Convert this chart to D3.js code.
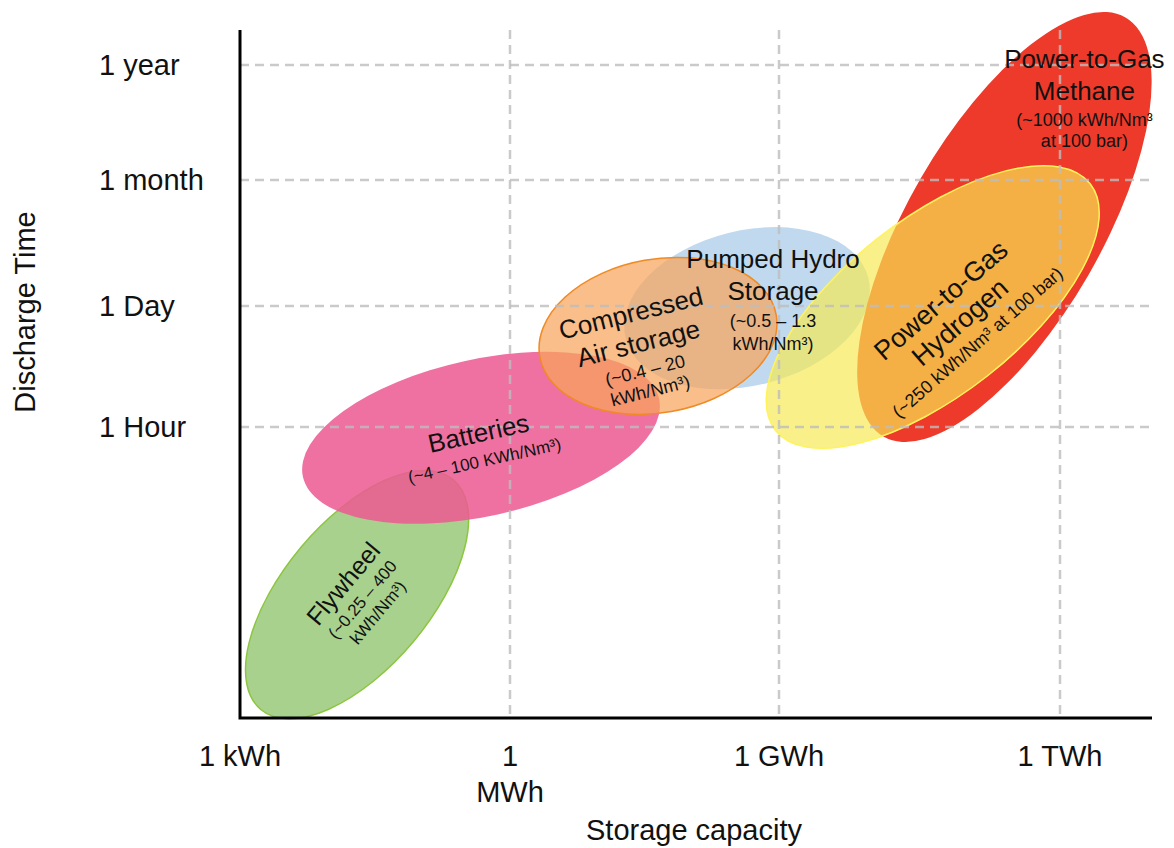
<!DOCTYPE html>
<html>
<head>
<meta charset="utf-8">
<script src="https://cdn.jsdelivr.net/npm/d3@7"></script>
<style>
  body { margin: 0; background: #fff; }
  text { font-family: "Liberation Sans", Arial, sans-serif; fill: #111; }
  .calibri { font-family: Lato, "Open Sans", sans-serif; }
</style>
</head>
<body>
<div id="chart"></div>
<script>
// axis ticks
const capacityTicks = [1, 1e3, 1e6, 1e9];            // kWh
const capacityLabels = [["1 kWh"], ["1", "MWh"], ["1 GWh"], ["1 TWh"]];
const timeTicks = [1, 24, 720, 8760];                 // hours
const timeLabels = ["1 Hour", "1 Day", "1 month", "1 year"];

// technologies: major axis runs from (capMin, timeMin) to (capMax, timeMax)
const techNames = ["Flywheel", "Batteries", "Pumped Hydro", "Compressed Air", "Methane", "Hydrogen"];
const capMin  = [1.7, 5, 19500, 2150, 1.3e7, 9.1e5];
const capMax  = [235, 46000, 9e6, 930000, 5e9, 2.1e9];
const timeMin = [0.0006, 0.27, 10.3, 6.3, 0.78, 0.92];
const timeMax = [0.25, 2.1, 51, 19, 24600, 650];
const widthRatio = [0.49, 0.43, 0.62, 0.64, 0.40, 0.44];

const W = 1174, H = 848;
const plot = {left: 240, right: 1152, top: 30, bottom: 718};

const svg = d3.select("#chart").append("svg")
  .attr("width", W).attr("height", H);

const x = d3.scaleLog().domain(capacityTicks).range([240, 510, 779, 1060]);
const y = d3.scaleLog().domain(timeTicks).range([427, 306, 180, 65]);

// styles in draw order
const styles = {
  "Flywheel":       {fill: "#A9D18E", opacity: 1,    stroke: "#8CC63F", sw: 1.5},
  "Batteries":      {fill: "#EC5A92", opacity: 0.86, stroke: "none",    sw: 0},
  "Pumped Hydro":   {fill: "#BDD7EE", opacity: 0.95, stroke: "none",    sw: 0},
  "Compressed Air": {fill: "#F6A55B", opacity: 0.72, stroke: "#F08A24", sw: 1.5},
  "Methane":        {fill: "#EE3A2A", opacity: 1,    stroke: "none",    sw: 0},
  "Hydrogen":       {fill: "#F6E951", opacity: 0.68, stroke: "#FFF35C", sw: 1.5}
};

const techs = techNames.map((name, i) => {
  const x1 = x(capMin[i]), y1 = y(timeMin[i]);
  const x2 = x(capMax[i]), y2 = y(timeMax[i]);
  const cx = (x1 + x2) / 2, cy = (y1 + y2) / 2;
  const rx = Math.hypot(x2 - x1, y2 - y1) / 2;
  return {name, cx, cy, rx, ry: rx * widthRatio[i],
          angle: Math.atan2(y2 - y1, x2 - x1) * 180 / Math.PI};
});

// ellipses
svg.append("g").selectAll("ellipse")
  .data(techs)
  .enter().append("ellipse")
  .attr("cx", d => d.cx)
  .attr("cy", d => d.cy)
  .attr("rx", d => d.rx)
  .attr("ry", d => d.ry)
  .attr("transform", d => `rotate(${d.angle},${d.cx},${d.cy})`)
  .attr("fill", d => styles[d.name].fill)
  .attr("fill-opacity", d => styles[d.name].opacity)
  .attr("stroke", d => styles[d.name].stroke)
  .attr("stroke-width", d => styles[d.name].sw);

// dashed grid on top
const grid = svg.append("g")
  .attr("stroke", "#BDBDBD")
  .attr("stroke-width", 2.5)
  .attr("stroke-dasharray", "9,6")
  .attr("stroke-opacity", 0.8);

grid.selectAll(".gx")
  .data(capacityTicks.slice(1))
  .enter().append("line")
  .attr("x1", d => x(d)).attr("x2", d => x(d))
  .attr("y1", plot.top).attr("y2", plot.bottom);

grid.selectAll(".gy")
  .data(timeTicks)
  .enter().append("line")
  .attr("x1", plot.left).attr("x2", plot.right - 2)
  .attr("y1", d => y(d)).attr("y2", d => y(d));

// axis lines
svg.append("path")
  .attr("d", `M${plot.left},${plot.top}V${plot.bottom}H${plot.right}`)
  .attr("fill", "none")
  .attr("stroke", "#000")
  .attr("stroke-width", 3);

// tick labels
svg.append("g").selectAll("text")
  .data(timeTicks)
  .enter().append("text")
  .attr("x", 99)
  .attr("y", d => y(d) + 10)
  .attr("font-size", 29)
  .text((d, i) => timeLabels[i]);

const xt = svg.append("g").selectAll("text")
  .data(capacityTicks)
  .enter().append("text")
  .attr("text-anchor", "middle")
  .attr("font-size", 29);
xt.selectAll("tspan")
  .data((d, i) => capacityLabels[i].map(s => ({s, v: d})))
  .enter().append("tspan")
  .attr("x", d => x(d.v))
  .attr("y", (d, j) => 766 + j * 36)
  .text(d => d.s);

// axis titles
svg.append("text")
  .attr("transform", "translate(35,312) rotate(-90)")
  .attr("text-anchor", "middle")
  .attr("font-size", 29)
  .text("Discharge Time");

svg.append("text")
  .attr("x", 694).attr("y", 840)
  .attr("text-anchor", "middle")
  .attr("font-size", 29)
  .text("Storage capacity");

// labels, placed relative to each ellipse centre
const labelLayout = {
  "Flywheel": {dx: 3, dy: 3, rot: -50, cls: "calibri",
    lines: [["Flywheel", 25, -22], ["(~0.25 – 400", 17, 3], ["kWh/Nm³)", 17, 23]]},
  "Batteries": {dx: 0, dy: 7, rot: -12.5, cls: "calibri",
    lines: [["Batteries", 26, -12], ["(~4 – 100 KWh/Nm³)", 17, 16]]},
  "Pumped Hydro": {dx: 26, dy: -8, rot: 0, cls: "",
    lines: [["Pumped Hydro", 26, -41], ["Storage", 26, -9], ["(~0.5 – 1.3", 18, 21], ["kWh/Nm³)", 18, 44]]},
  "Compressed Air": {dx: -18, dy: 14, rot: -14, cls: "",
    lines: [["Compressed", 26, -38], ["Air storage", 26, -7], ["(~0.4 – 20", 18, 21], ["kWh/Nm³)", 18, 42]]},
  "Methane": {dx: 80, dy: -127, rot: 0, cls: "",
    lines: [["Power-to-Gas", 26, -41], ["Methane", 26, -9], ["(~1000 kWh/Nm³", 18, 20], ["at 100 bar)", 18, 41]]},
  "Hydrogen": {dx: 27, dy: 15, rot: -41, cls: "",
    lines: [["Power-to-Gas", 27, -29], ["Hydrogen", 27, 0], ["(~250 kWh/Nm³ at 100 bar)", 18, 27]]}
};

const lg = svg.append("g").selectAll("g")
  .data(techs)
  .enter().append("g")
  .attr("class", d => labelLayout[d.name].cls)
  .attr("transform", d => {
    const L = labelLayout[d.name];
    return `translate(${d.cx + L.dx},${d.cy + L.dy}) rotate(${L.rot})`;
  });

lg.selectAll("text")
  .data(d => labelLayout[d.name].lines)
  .enter().append("text")
  .attr("text-anchor", "middle")
  .attr("y", d => d[2])
  .attr("dy", "0.35em")
  .attr("font-size", d => d[1])
  .text(d => d[0]);
</script>
</body>
</html>
